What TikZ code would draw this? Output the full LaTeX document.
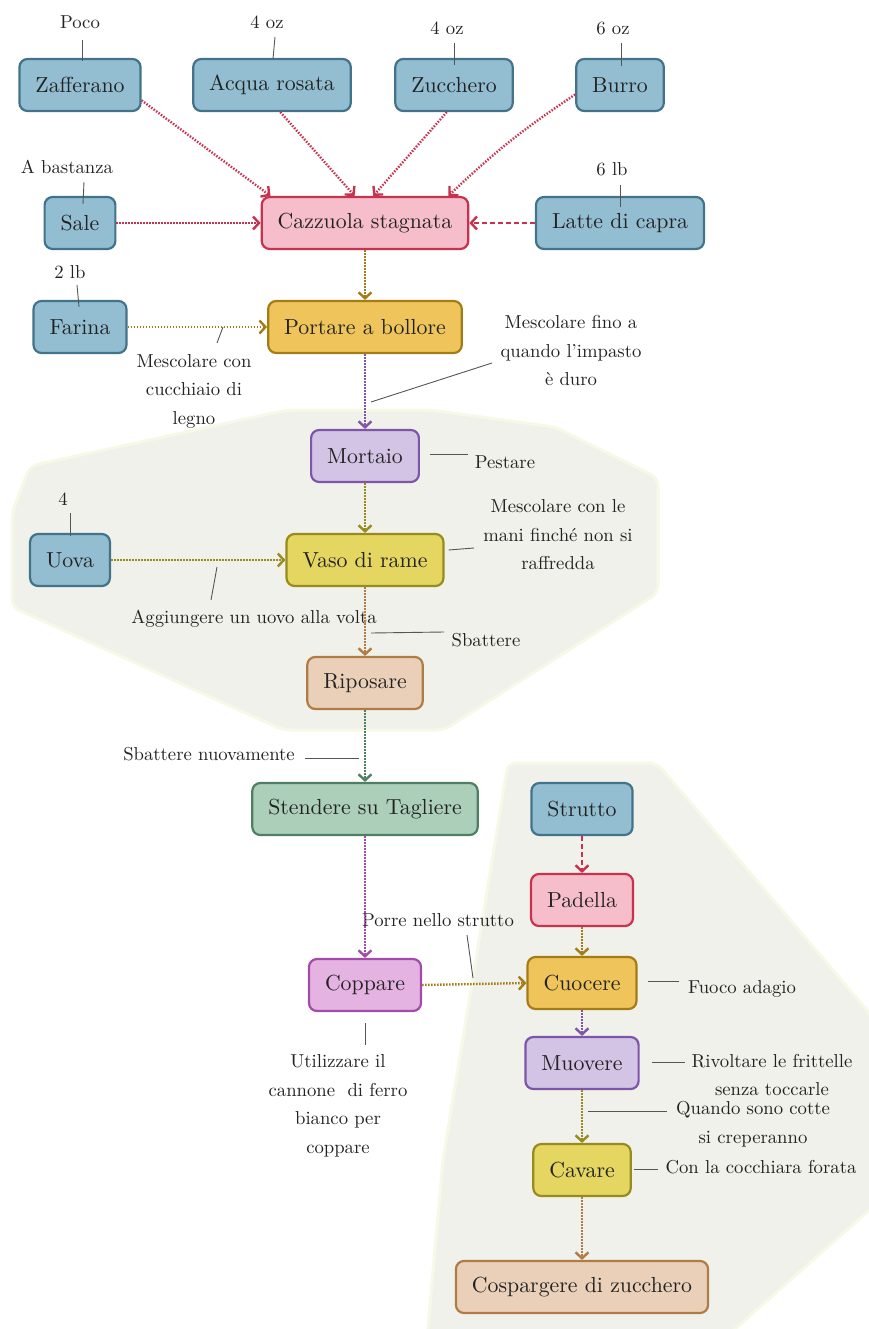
\documentclass[tikz,border=0pt]{standalone}
\usepackage{fontspec}
\setmainfont{lmroman10-regular.otf}
\usetikzlibrary{arrows.meta,calc}

\definecolor{ink}{HTML}{222222}
\definecolor{leadgrey}{HTML}{555555}
\definecolor{bgfill}{HTML}{F0F1EA}
\definecolor{bgedge}{HTML}{F8F8E8}
\definecolor{bluefill}{HTML}{93BED1}
\definecolor{blueline}{HTML}{42738A}
\definecolor{pinkfill}{HTML}{F6BECB}
\definecolor{pinkline}{HTML}{C9324F}
\definecolor{goldfill}{HTML}{EFC55B}
\definecolor{goldline}{HTML}{A47C16}
\definecolor{lilacfill}{HTML}{D3C3E4}
\definecolor{lilacline}{HTML}{7E55A9}
\definecolor{yellowfill}{HTML}{E4D660}
\definecolor{yellowline}{HTML}{978B1F}
\definecolor{peachfill}{HTML}{EAD0B9}
\definecolor{peachline}{HTML}{B07B45}
\definecolor{greenfill}{HTML}{ACCFBA}
\definecolor{greenline}{HTML}{4F7F63}
\definecolor{magfill}{HTML}{E4B3E1}
\definecolor{magline}{HTML}{A24BA8}

\newcommand\boxfont{\fontsize{21.8}{26}\selectfont}
\newcommand\notefont{\fontsize{18.7}{28.5}\selectfont}

\tikzset{
  box/.style={rounded corners=8pt, line width=2.2pt, minimum height=52pt,
    inner xsep=16pt, inner ysep=0pt, font=\boxfont, text=ink},
  ingr/.style={box, draw=blueline, fill=bluefill},
  pinkbox/.style={box, draw=pinkline, fill=pinkfill},
  goldbox/.style={box, draw=goldline, fill=goldfill},
  lilacbox/.style={box, draw=lilacline, fill=lilacfill},
  yellowbox/.style={box, draw=yellowline, fill=yellowfill},
  peachbox/.style={box, draw=peachline, fill=peachfill},
  greenbox/.style={box, draw=greenline, fill=greenfill},
  magbox/.style={box, draw=magline, fill=magfill},
  note/.style={font=\notefont, text=ink, align=center, inner sep=0pt},
  lead/.style={draw=leadgrey, line width=0.9pt},
  flow/.style={line width=2.4pt, dash pattern=on 1.5pt off 1.5pt,
    -{Straight Barb[length=6pt,width=13pt]}},
  dashflow/.style={line width=2.4pt, dash pattern=on 5pt off 3pt,
    -{Straight Barb[length=6pt,width=13pt]}},
  region/.style={fill=bgfill, draw=bgedge, line width=3pt, rounded corners=8pt},
}

\begin{document}
\begin{tikzpicture}[x=1pt,y=-1pt]
\useasboundingbox (0,0) rectangle (869,1329);

% shaded groups behind the steps
\begin{scope}
  \clip (0,0) rectangle (869,1329);
  \path[region] (30,466) -- (287,410) -- (430,410) -- (555,427) -- (658,478)
    -- (658,593) -- (444,730) -- (283,730) -- (12,607) -- (12,513) -- cycle;
  \path[region] (508,763) -- (657,763) -- (900,1049) -- (900,1183)
    -- (700,1360) -- (425,1360) -- (443,1160) -- cycle;
\end{scope}

% ingredients and steps
\node[ingr] (zaf) at (80,85) {Zafferano};
\node[ingr] (acq) at (272,85) {Acqua rosata};
\node[ingr] (zuc) at (454,85) {Zucchero};
\node[ingr] (bur) at (620,85) {Burro};
\node[ingr] (sale) at (80,223) {Sale};
\node[pinkbox] (caz) at (365,223) {Cazzuola stagnata};
\node[ingr] (lat) at (620,223) {Latte di capra};
\node[ingr] (far) at (80,327) {Farina};
\node[goldbox] (por) at (365,327) {Portare a bollore};
\node[lilacbox] (mor) at (365,456) {Mortaio};
\node[ingr] (uova) at (70,560) {Uova};
\node[yellowbox] (vaso) at (365,560) {Vaso di rame};
\node[peachbox] (rip) at (365,683) {Riposare};
\node[greenbox] (ste) at (365,809) {Stendere su Tagliere};
\node[magbox] (cop) at (365,985) {Coppare};
\node[ingr] (str) at (582,809) {Strutto};
\node[pinkbox] (pad) at (582,900) {Padella};
\node[goldbox] (cuo) at (582,983) {Cuocere};
\node[lilacbox] (muo) at (582,1063) {Muovere};
\node[yellowbox] (cav) at (582,1170) {Cavare};
\node[peachbox] (cos) at (582,1287) {Cospargere di zucchero};

% quantities and remarks
\node[note] (poco) at (80,22) {Poco};
\node[note] (oz1) at (267,22) {4 oz};
\node[note] (oz2) at (447,28) {4 oz};
\node[note] (oz3) at (613,28) {6 oz};
\node[note] (bast) at (67,167) {A bastanza};
\node[note] (lb6) at (612,169) {6 lb};
\node[note] (lb2) at (70,272) {2 lb};
\node[note] (mesc1) at (194,391) {Mescolare con\\cucchiaio di\\legno};
\node[note] (mesc2) at (571,351) {Mescolare fino a\\quando l'impasto\\è duro};
\node[note] (pest) at (505,462) {Pestare};
\node[note] (mesc3) at (558,535) {Mescolare con le\\mani finché non si\\raffredda};
\node[note] (four) at (63,499) {4};
\node[note] (agg) at (254,619) {Aggiungere un uovo alla volta};
\node[note] (sbat) at (486,640) {Sbattere};
\node[note] (sbatn) at (209,754) {Sbattere nuovamente};
\node[note] (porre) at (438,920) {Porre nello strutto};
\node[note] (util) at (338,1106) {Utilizzare il\\cannone\ \ di ferro\\bianco per\\coppare};
\node[note] (fuoco) at (742,989) {Fuoco adagio};
\node[note] (rivol) at (772,1075) {Rivoltare le frittelle\\senza toccarle};
\node[note] (quando) at (753,1124) {Quando sono cotte\\si creperanno};
\node[note] (con) at (761,1167) {Con la cocchiara forata};

% flow of the recipe
\draw[flow, pinkline] (zaf.-14) -- (caz.164);
\draw[flow, pinkline] (acq.-73) -- (caz.111);
\draw[flow, pinkline] (zuc.-105) -- (caz.73);
\draw[flow, pinkline] (bur.192) to[bend right=5] (caz.18);
\draw[flow, pinkline] (sale) -- (caz);
\draw[dashflow, pinkline] (lat) -- (caz);
\draw[flow, goldline] (caz) -- (por);
\draw[flow, goldline] (far) -- (por);
\draw[flow, lilacline] (por) -- (mor);
\draw[flow, yellowline] (mor) -- (vaso);
\draw[flow, yellowline] (uova) -- (vaso);
\draw[flow, peachline] (vaso) -- (rip);
\draw[flow, greenline] (rip) -- (ste);
\draw[flow, magline] (ste) -- (cop);
\draw[flow, goldline] (cop.east) -- (cuo.west);
\draw[dashflow, pinkline] (str) -- (pad);
\draw[flow, goldline] (pad) -- (cuo);
\draw[flow, lilacline] (cuo) -- (muo);
\draw[flow, yellowline] (muo) -- (cav);
\draw[flow, peachline] (cav) -- (cos);

% leader lines of the remarks
\draw[lead] ($(poco)+(2,18)$) -- ($(zaf.north)+(2,3)$);
\draw[lead] ($(oz1)+(8,15)$) -- ($(acq.north)+(1,1)$);
\draw[lead] ($(oz2)+(7,15)$) -- ($(zuc.north)+(0,7)$);
\draw[lead] ($(oz3)+(8,15)$) -- ($(bur.north)+(1,8)$);
\draw[lead] ($(bast)+(17,15)$) -- ($(sale.north)+(3,8)$);
\draw[lead] ($(lb6)+(8,16)$) -- ($(lat.north)+(0,11)$);
\draw[lead] ($(lb2)+(7,13)$) -- ($(far.north)+(-1,7)$);
\draw[lead] ($(mesc1)+(29,-64)$) -- ($(mesc1)+(23,-48)$);
\draw[lead] ($(mesc2)+(-200,51)$) -- ($(mesc2)+(-79,12)$);
\draw[lead] ($(mor.east)+(10,-2)$) -- ($(pest)+(-37,-8)$);
\draw[lead] ($(vaso.east)+(4,-10)$) -- ($(mesc3)+(-84,13)$);
\draw[lead] ($(four)+(7,14)$) -- ($(uova.north)+(0,3)$);
\draw[lead] ($(agg)+(-37,-52)$) -- ($(agg)+(-43,-19)$);
\draw[lead] ($(sbat)+(-115,-7)$) -- ($(sbat)+(-42,-8)$);
\draw[lead] ($(sbatn)+(96,4)$) -- ($(sbatn)+(150,4)$);
\draw[lead] ($(porre)+(29,15)$) -- ($(porre)+(35,58)$);
\draw[lead] ($(cop.south)+(0,11)$) -- ($(cop.south)+(0,33)$);
\draw[lead] ($(cuo.east)+(10,-2)$) -- ($(fuoco)+(-63,-8)$);
\draw[lead] ($(muo.east)+(12,-1)$) -- ($(rivol)+(-87,-13)$);
\draw[lead] ($(quando)+(-165,-13)$) -- ($(quando)+(-86,-13)$);
\draw[lead] ($(cav.east)+(2,-1)$) -- ($(con)+(-103,2)$);
\end{tikzpicture}
\end{document}
